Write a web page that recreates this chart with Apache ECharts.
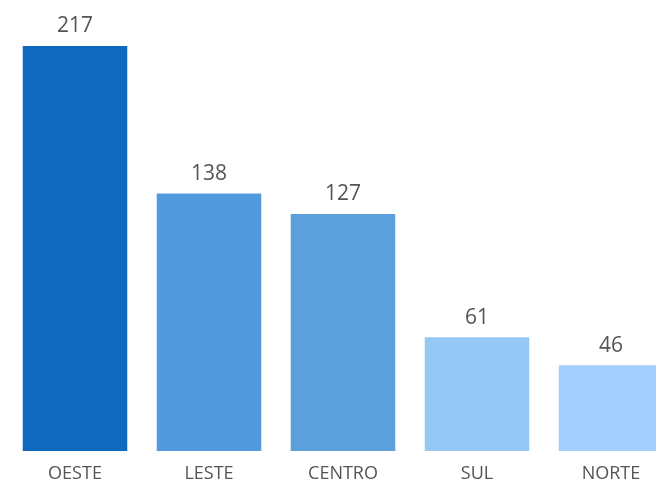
<!DOCTYPE html>
<html lang="pt">
<head>
    <meta charset="UTF-8">
    <title>Regiões</title>
    <style>
        html, body { margin: 0; padding: 0; background: #fff; }
    </style>
</head>
<body>
<div id="main" style="width: 656px;height:480px;"></div>

<script src="https://cdn.jsdelivr.net/npm/echarts@6/dist/echarts.min.js"></script>
<script>
    var regioes = ['OESTE', 'LESTE', 'CENTRO', 'SUL', 'NORTE'];
    var valores = [217, 138, 127, 61, 46];
    var cores = ['#0f69bf', '#529ade', '#5b9fdd', '#96c8f6', '#a3cffe'];

    var chart = echarts.init(document.getElementById('main'));
    chart.setOption({
        backgroundColor: '#fff',
        animation: false,
        grid: {
            left: 8,
            top: 46,
            width: 670,
            bottom: 29,
            outerBoundsMode: 'none'
        },
        xAxis: {
            type: 'category',
            data: regioes,
            axisLine: { show: false },
            axisTick: { show: false },
            axisLabel: {
                color: '#555',
                fontFamily: 'Open Sans',
                fontSize: 18,
                margin: 14
            }
        },
        yAxis: {
            type: 'value',
            min: 0,
            max: 217,
            show: false,
            splitLine: { show: false }
        },
        series: [{
            type: 'bar',
            barCategoryGap: '22%',
            data: valores.map(function (v, i) {
                return { value: v, itemStyle: { color: cores[i] } };
            }),
            label: {
                show: true,
                position: 'top',
                distance: 9,
                color: '#555',
                fontFamily: 'Open Sans',
                fontSize: 21
            }
        }]
    });
</script>
</body>
</html>
